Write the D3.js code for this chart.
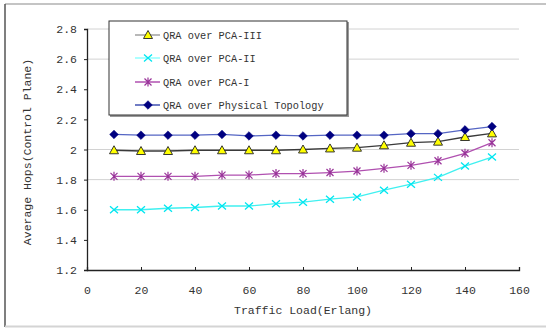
<!DOCTYPE html>
<html><head><meta charset="utf-8">
<script src="https://cdn.jsdelivr.net/npm/d3@7"></script>
<style>body{margin:0;background:#fff}svg{display:block}</style>
</head><body>
<script>
const loads = [10,20,30,40,50,60,70,80,90,100,110,120,130,140,150];
const pca3 = [1.995,1.99,1.99,1.995,1.995,1.995,1.995,2.0,2.007,2.012,2.028,2.045,2.052,2.083,2.107];
const pca2 = [1.60,1.60,1.61,1.615,1.625,1.625,1.64,1.65,1.67,1.685,1.73,1.77,1.815,1.89,1.95];
const pca1 = [1.822,1.822,1.822,1.822,1.83,1.83,1.84,1.84,1.847,1.857,1.875,1.895,1.925,1.975,2.045];
const phys = [2.10,2.095,2.095,2.095,2.10,2.09,2.095,2.09,2.095,2.095,2.095,2.105,2.105,2.13,2.152];
const seriesNames = ["QRA over PCA-III","QRA over PCA-II","QRA over PCA-I","QRA over Physical Topology"];
const xTicks = [0,20,40,60,80,100,120,140,160];
const yTicks = [1.2,1.4,1.6,1.8,2.0,2.2,2.4,2.6,2.8];
const yTickLabels = ["1.2","1.4","1.6","1.8","2","2.2","2.4","2.6","2.8"];
const gridValues = [1.8,2.0,2.6,2.8];
const xTitle = "Traffic Load(Erlang)";
const yTitle = "Average Hops(Control Plane)";

const W=546,H=328;
const svg=d3.select("body").append("svg").attr("width",W).attr("height",H);
const font="'Liberation Mono', 'DejaVu Sans Mono', monospace";

// outer frame
svg.append("line").attr("x1",5).attr("x2",W).attr("y1",4).attr("y2",4).attr("stroke","#c4c4c4").attr("stroke-width",2);
svg.append("line").attr("x1",5).attr("x2",5).attr("y1",4).attr("y2",327).attr("stroke","#555").attr("stroke-width",1.5);
svg.append("line").attr("x1",5).attr("x2",W).attr("y1",326.5).attr("y2",326.5).attr("stroke","#d4d4d4").attr("stroke-width",2);

const x=d3.scaleLinear().domain([0,160]).range([87,519]);
const y=d3.scaleLinear().domain([1.2,2.8]).range([270,29]);

// gridlines
svg.append("g").selectAll("line").data(gridValues).join("line")
  .attr("x1",x(0)).attr("x2",x(160)).attr("y1",d=>y(d)).attr("y2",d=>y(d))
  .attr("stroke","#d2d2d2").attr("stroke-width",1);

// axes
const xAxis=svg.append("g").attr("transform",`translate(0,${y(1.2)})`)
  .call(d3.axisBottom(x).tickValues(xTicks).tickSize(-3).tickPadding(16).tickFormat(d=>d));
const yAxis=svg.append("g").attr("transform",`translate(${x(0)},0)`)
  .call(d3.axisLeft(y).tickValues(yTicks).tickSize(3).tickPadding(7).tickFormat((d,i)=>yTickLabels[i]));
[xAxis,yAxis].forEach(g=>{
  g.select(".domain").attr("stroke","#222").attr("stroke-width",1.3);
  g.selectAll(".tick line").attr("stroke","#222");
  g.selectAll("text").attr("font-family",font).attr("font-size",11.5).attr("fill","#333");
});

svg.append("text").attr("x",303).attr("y",314).attr("text-anchor","middle")
  .attr("font-family",font).attr("font-size",11.5).attr("fill","#333").text(xTitle);
svg.append("text").attr("transform",`translate(31,152) rotate(-90)`).attr("text-anchor","middle")
  .attr("font-family",font).attr("font-size",11.5).attr("fill","#333").text(yTitle);

// marker drawers
function marker(g,type,cx,cy){
  if(type==="tri"){
    g.append("path").attr("d",`M${cx},${cy-4.5}L${cx+4.5},${cy+3.5}L${cx-4.5},${cy+3.5}Z`)
      .attr("fill","#ffff00").attr("stroke","#222").attr("stroke-width",0.9);
  } else if(type==="x"){
    g.append("path").attr("d",`M${cx-4},${cy-3.5}L${cx+4},${cy+3.5}M${cx-4},${cy+3.5}L${cx+4},${cy-3.5}`)
      .attr("stroke","#00e6f0").attr("stroke-width",1.3).attr("fill","none");
  } else if(type==="ast"){
    g.append("path").attr("d",`M${cx-3.5},${cy-3.5}L${cx+3.5},${cy+3.5}M${cx-3.5},${cy+3.5}L${cx+3.5},${cy-3.5}M${cx},${cy-4.5}L${cx},${cy+4.5}`)
      .attr("stroke","#993399").attr("stroke-width",1.2).attr("fill","none");
  } else {
    g.append("path").attr("d",`M${cx},${cy-4.3}L${cx+4.3},${cy}L${cx},${cy+4.3}L${cx-4.3},${cy}Z`)
      .attr("fill","#000080").attr("stroke","#000080").attr("stroke-width",0.6);
  }
}

const series=[
  {vals:pca3,line:"#3a3a3a",type:"tri",legLine:"#a0a0a0"},
  {vals:pca2,line:"#40f0f0",type:"x",legLine:"#90ffff"},
  {vals:pca1,line:"#b050b0",type:"ast",legLine:"#b050b0"},
  {vals:phys,line:"#5566c4",type:"dia",legLine:"#4050b0"}
];
const lineGen=d3.line().x(d=>x(d[0])).y(d=>y(d[1]));
// draw lines then markers in order (last on top)
series.forEach(s=>{
  const pts=loads.map((l,i)=>[l,s.vals[i]]);
  svg.append("path").attr("d",lineGen(pts)).attr("fill","none").attr("stroke",s.line).attr("stroke-width",1.3);
  const g=svg.append("g");
  pts.forEach(p=>marker(g,s.type,x(p[0]),y(p[1])));
});

// legend
const lg=svg.append("g");
lg.append("rect").attr("x",110).attr("y",22).attr("width",239).attr("height",95).attr("fill","#999");
lg.append("rect").attr("x",109).attr("y",21).attr("width",238).attr("height",94).attr("fill","#fff").attr("stroke","#333").attr("stroke-width",1);
const rowY=[35,58,82,105];
series.forEach((s,i)=>{
  lg.append("line").attr("x1",135).attr("x2",160).attr("y1",rowY[i]).attr("y2",rowY[i]).attr("stroke",s.legLine).attr("stroke-width",1.5);
  marker(lg,s.type,148,rowY[i]);
  lg.append("text").attr("x",163).attr("y",rowY[i]+3.5).attr("font-family",font).attr("font-size",10.3).attr("fill","#333").text(seriesNames[i]);
});
</script>
</body></html>
